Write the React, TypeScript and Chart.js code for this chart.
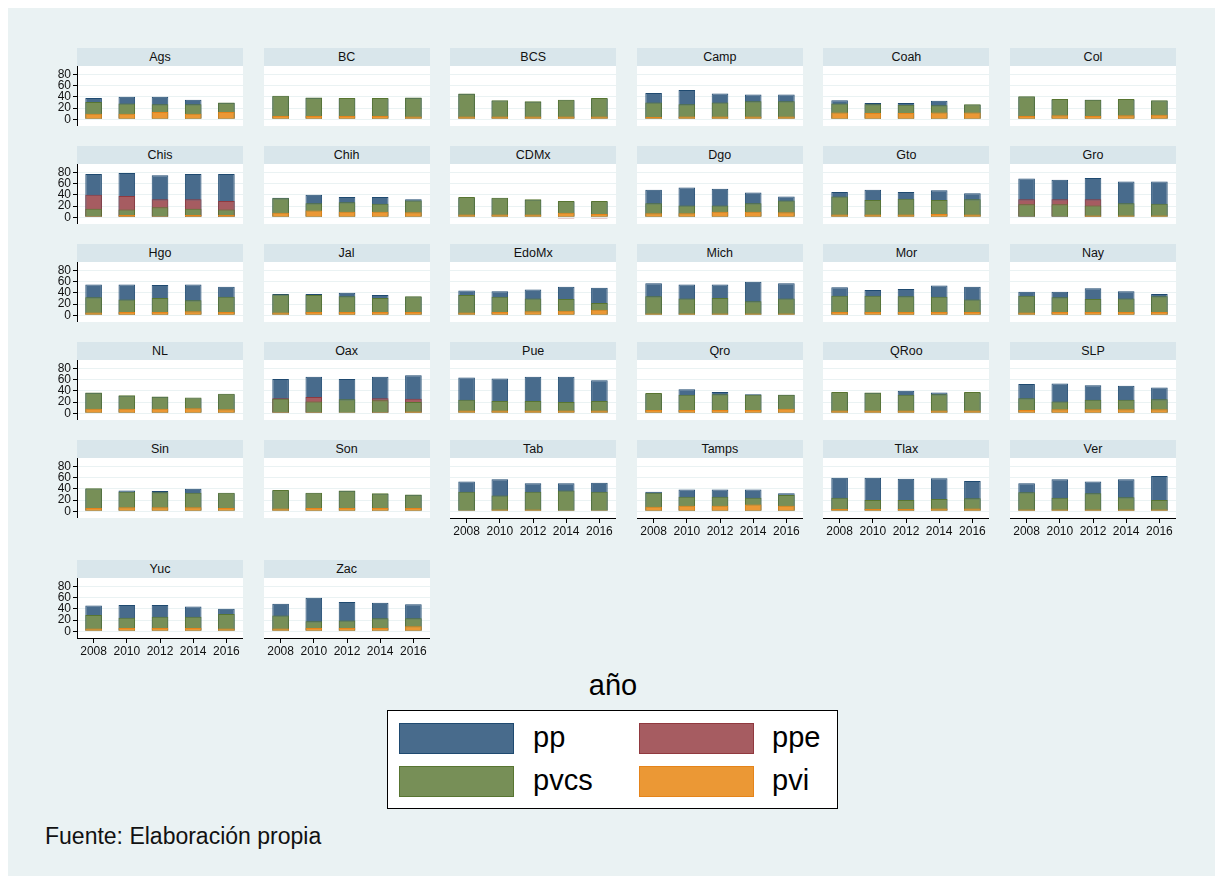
import React, { useEffect, useRef } from "react";
import { Chart, registerables } from "chart.js";
Chart.register(...registerables);

const years = ["2008", "2010", "2012", "2014", "2016"];
const yTicks = [0, 20, 40, 60, 80];
const states = [
  "Ags", "BC", "BCS", "Camp", "Coah", "Col",
  "Chis", "Chih", "CDMx", "Dgo", "Gto", "Gro",
  "Hgo", "Jal", "EdoMx", "Mich", "Mor", "Nay",
  "NL", "Oax", "Pue", "Qro", "QRoo", "SLP",
  "Sin", "Son", "Tab", "Tamps", "Tlax", "Ver",
  "Yuc", "Zac",
];

const pp: number[][] = [
  [38, 40, 40, 35, 29], [41, 38, 37, 37, 38], [45, 33, 31, 34, 37], [47, 52, 46, 44, 44], [34, 29, 29, 33, 26], [40, 35, 35, 35, 33],
  [77, 79, 75, 77, 77], [35, 40, 36, 36, 32], [35, 34, 31, 28, 28], [49, 53, 51, 44, 37], [45, 49, 45, 48, 43], [69, 67, 70, 64, 64],
  [55, 55, 54, 55, 51], [38, 38, 40, 36, 33], [44, 43, 46, 51, 49], [57, 55, 55, 60, 57], [50, 45, 47, 53, 51], [42, 42, 48, 43, 38],
  [36, 31, 29, 27, 34], [61, 65, 61, 65, 68], [64, 62, 65, 65, 59], [35, 43, 38, 34, 33], [37, 36, 40, 37, 36], [52, 53, 50, 49, 46],
  [40, 37, 36, 40, 32], [37, 32, 36, 31, 29], [53, 57, 50, 50, 51], [35, 39, 39, 39, 32], [60, 60, 58, 59, 54], [50, 57, 53, 57, 63],
  [46, 47, 47, 44, 40], [49, 60, 52, 51, 48],
];
const ppe: (number | null)[][] = [
  [null, null, null, null, null], [null, null, null, null, null], [null, null, null, null, null], [null, null, null, null, null], [null, null, null, null, null], [null, null, null, null, null],
  [40, 38, 32, 32, 29], [null, null, null, null, null], [null, null, null, -2, -2], [null, null, null, null, null], [null, null, null, null, null], [32, 32, 32, null, null],
  [null, null, null, null, null], [null, null, null, null, null], [null, null, null, null, null], [null, null, null, null, null], [null, null, null, null, null], [null, null, null, null, null],
  [null, null, null, null, null], [27, 29, null, 27, 26], [null, null, null, null, null], [null, null, null, null, null], [null, null, null, null, null], [null, null, null, null, null],
  [null, null, null, null, null], [null, null, null, null, null], [null, null, null, null, null], [null, null, null, null, null], [null, null, null, null, null], [null, null, null, null, null],
  [null, null, null, null, null], [null, null, null, null, null],
];
const pvcs: number[][] = [
  [31, 28, 27, 27, 30], [42, 39, 38, 38, 39], [46, 34, 32, 35, 38], [30, 27, 30, 32, 32], [28, 27, 26, 25, 27], [41, 36, 35, 36, 34],
  [15, 14, 18, 15, 14], [34, 25, 27, 24, 30], [36, 35, 32, 29, 29], [25, 21, 21, 25, 30], [37, 31, 33, 31, 32], [23, 23, 21, 25, 24],
  [32, 28, 31, 27, 33], [37, 36, 34, 31, 34], [36, 33, 30, 29, 22], [34, 30, 31, 25, 30], [35, 35, 34, 33, 28], [35, 32, 29, 30, 34],
  [37, 32, 30, 28, 35], [26, 21, 25, 23, 20], [24, 22, 22, 20, 22], [36, 33, 34, 33, 33], [38, 37, 33, 34, 38], [27, 21, 24, 24, 25],
  [41, 35, 34, 33, 33], [38, 33, 37, 32, 30], [35, 28, 35, 37, 35], [33, 26, 26, 24, 29], [24, 20, 20, 22, 23], [34, 24, 32, 25, 20],
  [29, 24, 26, 26, 31], [28, 18, 19, 23, 23],
];
const pvi: number[][] = [
  [10, 10, 13, 10, 13], [6, 6, 6, 6, 5], [5, 5, 5, 5, 5], [4, 5, 5, 5, 5], [12, 11, 11, 12, 12], [6, 7, 6, 7, 8],
  [2, 4, 2, 4, 4], [8, 12, 10, 10, 9], [5, 5, 5, 8, 6], [7, 7, 10, 10, 9], [5, 5, 5, 6, 5], [1, 1, 3, 3, 3],
  [5, 6, 6, 7, 6], [5, 6, 6, 6, 6], [5, 6, 7, 8, 10], [3, 3, 3, 3, 3], [6, 6, 6, 6, 6], [5, 6, 6, 6, 6],
  [8, 8, 8, 9, 7], [2, 2, 2, 2, 3], [5, 5, 5, 5, 5], [6, 6, 6, 6, 8], [5, 5, 5, 5, 5], [6, 7, 7, 7, 7],
  [6, 7, 7, 7, 6], [5, 6, 6, 6, 6], [2, 3, 3, 2, 2], [8, 10, 10, 12, 10], [4, 4, 4, 5, 5], [3, 3, 3, 3, 3],
  [5, 6, 6, 6, 5], [5, 6, 6, 6, 9],
];

const seriesNames = ["pp", "ppe", "pvcs", "pvi"];
const FILL = ["#486b8c", "#a65c61", "#778f57", "#eb9835"];
const EDGE = ["#1f4a70", "#90393f", "#587531", "#e5841a"];

const BG = "#eaf2f3";
const STRIP = "#d9e6eb";
const GRID = "#eaf2f3";
const FONT = "'Liberation Sans', Arial, sans-serif";

// layout (container coords; container sits at page 8,8)
const OX = 8;
const OY = 8;
const PW = 166;
const PH = 60;
const HH = 18;
const YW = 40;
const XH = 24;
const colLeft = (c: number) => 77 + c * 186.6 - OX;
const rowTop = (r: number) => (r < 5 ? 48 + r * 98 : 560) - OY;

function Panel({ idx }: { idx: number }) {
  const ref = useRef<HTMLCanvasElement | null>(null);
  const r = Math.floor(idx / 6);
  const c = idx % 6;
  const showY = c === 0;
  const showX = idx >= 26;
  const left = colLeft(c);
  const top = rowTop(r);
  const cw = PW + (showY ? YW : 0);
  const ch = PH + (showX ? XH : 0);

  useEffect(() => {
    const values = [pp[idx], ppe[idx], pvcs[idx], pvi[idx]];
    const chart = new Chart(ref.current as HTMLCanvasElement, {
      type: "bar",
      data: {
        labels: years,
        datasets: values.map((d, k) => ({
          label: seriesNames[k],
          data: d as any,
          backgroundColor: FILL[k],
          borderColor: EDGE[k],
          borderWidth: 1,
          grouped: false,
          order: 4 - k,
          barPercentage: 0.5,
          categoryPercentage: 1,
        })) as any,
      },
      options: {
        animation: false,
        responsive: false,
        maintainAspectRatio: false,
        devicePixelRatio: 1,
        layout: { padding: 0 },
        plugins: { legend: { display: false }, tooltip: { enabled: false } },
        scales: {
          x: {
            display: showX,
            offset: true,
            grid: {
              display: true,
              drawOnChartArea: false,
              drawTicks: true,
              tickLength: 5,
              tickColor: "#000",
              offset: false,
            },
            border: { display: true, color: "#000", width: 1 },
            ticks: {
              color: "#111",
              font: { family: FONT, size: 12 },
              padding: 1,
              maxRotation: 0,
              autoSkip: false,
            },
            afterFit: (s: any) => {
              s.height = showX ? XH : 0;
              s.paddingLeft = 0;
              s.paddingRight = 0;
            },
          } as any,
          y: {
            min: -12,
            max: 95,
            afterBuildTicks: (s: any) => {
              s.ticks = yTicks.map((v) => ({ value: v }));
            },
            grid: {
              color: GRID,
              lineWidth: 1,
              drawTicks: showY,
              tickLength: 4,
              tickColor: "#000",
            },
            border: { display: showY, color: "#000", width: 1 },
            ticks: {
              display: showY,
              autoSkip: false,
              color: "#111",
              font: { family: FONT, size: 12 },
              padding: 2,
            },
            afterFit: (s: any) => {
              s.width = showY ? YW : 0;
              s.paddingTop = 0;
              s.paddingBottom = 0;
            },
          } as any,
        },
      },
    });
    return () => chart.destroy();
  }, [idx]);

  return (
    <>
      <div
        style={{
          position: "absolute",
          left,
          top,
          width: PW,
          height: HH,
          background: STRIP,
          font: `12.5px ${FONT}`,
          color: "#111",
          textAlign: "center",
          lineHeight: `${HH}px`,
        }}
      >
        {states[idx]}
      </div>
      <div
        style={{
          position: "absolute",
          left,
          top: top + HH,
          width: PW,
          height: PH,
          background: "#fff",
        }}
      />
      <canvas
        ref={ref}
        width={cw}
        height={ch}
        style={{
          position: "absolute",
          left: left - (showY ? YW : 0),
          top: top + HH,
          width: cw,
          height: ch,
        }}
      />
    </>
  );
}

export default function App() {
  const legendItems = [
    { k: 0, x: 391, y: 715, tx: 525 },
    { k: 1, x: 631, y: 715, tx: 764 },
    { k: 2, x: 391, y: 758, tx: 525 },
    { k: 3, x: 631, y: 758, tx: 764 },
  ];
  return (
    <div
      style={{
        position: "relative",
        width: 1207,
        height: 868,
        background: BG,
        fontFamily: FONT,
      }}
    >
      {states.map((_, i) => (
        <Panel key={i} idx={i} />
      ))}
      <div
        style={{
          position: "absolute",
          left: 505,
          width: 200,
          top: 660,
          textAlign: "center",
          font: `29px ${FONT}`,
          color: "#000",
          lineHeight: "34px",
        }}
      >
        año
      </div>
      <div
        style={{
          position: "absolute",
          left: 379,
          top: 702,
          width: 449,
          height: 97,
          background: "#fff",
          border: "1px solid #000",
        }}
      />
      {legendItems.map((it) => (
        <React.Fragment key={it.k}>
          <div
            style={{
              position: "absolute",
              left: it.x,
              top: it.y,
              width: 113,
              height: 29,
              background: FILL[it.k],
              border: `1px solid ${EDGE[it.k]}`,
            }}
          />
          <div
            style={{
              position: "absolute",
              left: it.tx,
              top: it.y - 2,
              height: 34,
              lineHeight: "34px",
              font: `29px ${FONT}`,
              color: "#000",
              whiteSpace: "nowrap",
            }}
          >
            {seriesNames[it.k]}
          </div>
        </React.Fragment>
      ))}
      <div
        style={{
          position: "absolute",
          left: 37,
          top: 815,
          lineHeight: "28px",
          font: `23px ${FONT}`,
          color: "#111",
          whiteSpace: "nowrap",
        }}
      >
        Fuente: Elaboración propia
      </div>
    </div>
  );
}
